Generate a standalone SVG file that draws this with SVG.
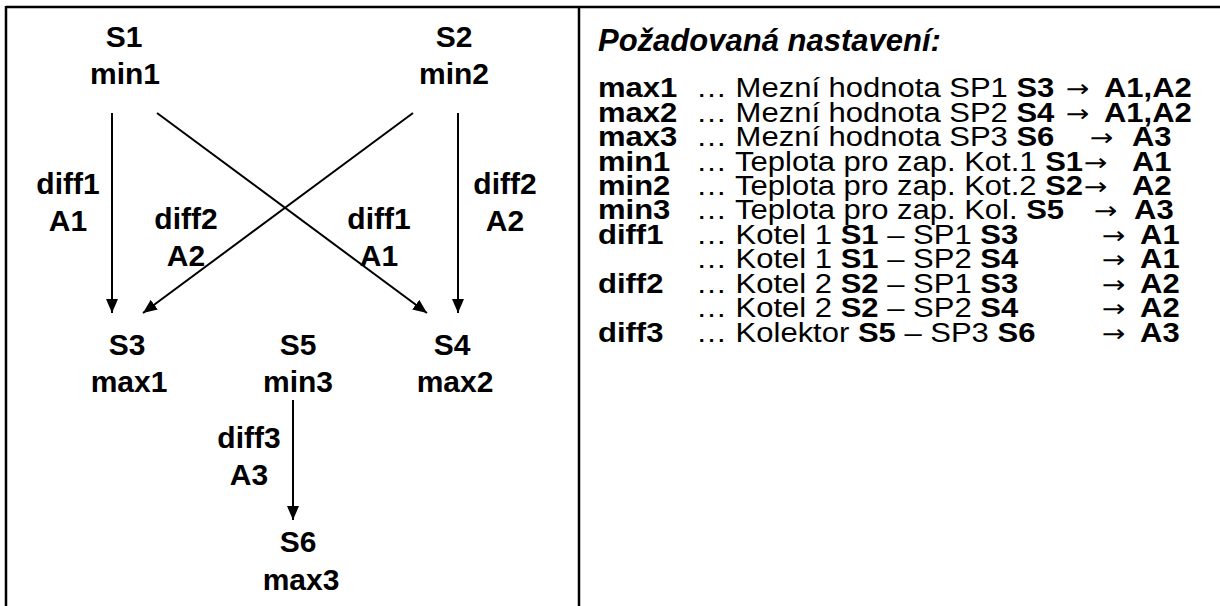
<svg xmlns="http://www.w3.org/2000/svg" width="1220" height="606" viewBox="0 0 1220 606">
<defs>
<marker id="ah" viewBox="0 0 14 12" refX="14" refY="6" markerWidth="14" markerHeight="12" markerUnits="userSpaceOnUse" orient="auto"><path d="M0,0 L14,6 L0,12 Z" fill="#000"/></marker>
</defs>
<style>
.n{font-family:"Liberation Sans",Arial,sans-serif;font-weight:bold;font-size:30px;text-anchor:middle;fill:#000}
.c line{stroke:#000;stroke-width:2;marker-end:url(#ah)}
.r{font-family:"Liberation Sans",Arial,sans-serif;font-size:31px;fill:#000}
.b{font-weight:bold}
.a{font-family:"DejaVu Sans",sans-serif;font-size:28px}
.t{font-family:"Liberation Sans",Arial,sans-serif;font-size:31px;font-weight:bold;font-style:italic;fill:#000}
</style>
<rect width="1220" height="606" fill="#fff"/>
<g id="frame" stroke="#000" stroke-width="2.5">
<line x1="6" y1="7" x2="1220" y2="7"/>
<line x1="6" y1="6" x2="6" y2="606"/>
<line x1="579" y1="7" x2="579" y2="606"/>
</g>
<g id="connectors" class="c">
<line x1="112" y1="113" x2="112" y2="313"/>
<line x1="157" y1="113" x2="427" y2="313"/>
<line x1="413" y1="113" x2="143" y2="313"/>
<line x1="458" y1="113" x2="458" y2="313"/>
<line x1="293" y1="400" x2="293" y2="520"/>
</g>
<g id="S1" class="n"><text x="124" y="47">S1</text><text x="125" y="84">min1</text></g>
<g id="S2" class="n"><text x="454" y="47">S2</text><text x="454" y="84">min2</text></g>
<g id="S3" class="n"><text x="127" y="355">S3</text><text x="129" y="392">max1</text></g>
<g id="S5" class="n"><text x="298" y="355">S5</text><text x="298" y="392">min3</text></g>
<g id="S4" class="n"><text x="452" y="355">S4</text><text x="455" y="392">max2</text></g>
<g id="S6" class="n"><text x="298" y="552">S6</text><text x="301" y="590">max3</text></g>
<g id="edge-labels" class="n">
<text x="68" y="194">diff1</text><text x="68" y="231">A1</text>
<text x="186" y="229">diff2</text><text x="186" y="266">A2</text>
<text x="379" y="229">diff1</text><text x="379" y="266">A1</text>
<text x="505" y="194">diff2</text><text x="505" y="231">A2</text>
<text x="249" y="448">diff3</text><text x="249" y="485">A3</text>
</g>
<text id="title" class="t" x="598" y="51">Požadovaná nastavení:</text>
<g id="settings" transform="scale(1,0.87)">
<text class="r" y="112"><tspan x="598" class="b">max1</tspan><tspan x="696">… Mezní hodnota SP1 </tspan><tspan class="b">S3</tspan><tspan x="1066" class="a">→</tspan><tspan x="1104" class="b">A1,A2</tspan></text>
<text class="r" y="140"><tspan x="598" class="b">max2</tspan><tspan x="696">… Mezní hodnota SP2 </tspan><tspan class="b">S4</tspan><tspan x="1066" class="a">→</tspan><tspan x="1104" class="b">A1,A2</tspan></text>
<text class="r" y="168"><tspan x="598" class="b">max3</tspan><tspan x="696">… Mezní hodnota SP3 </tspan><tspan class="b">S6</tspan><tspan x="1090" class="a">→</tspan><tspan x="1132" class="b">A3</tspan></text>
<text class="r" y="197"><tspan x="598" class="b">min1</tspan><tspan x="696">… Teplota pro zap. Kot.1 </tspan><tspan class="b">S1</tspan><tspan x="1084" class="a">→</tspan><tspan x="1132" class="b">A1</tspan></text>
<text class="r" y="224"><tspan x="598" class="b">min2</tspan><tspan x="696">… Teplota pro zap. Kot.2 </tspan><tspan class="b">S2</tspan><tspan x="1084" class="a">→</tspan><tspan x="1132" class="b">A2</tspan></text>
<text class="r" y="252"><tspan x="598" class="b">min3</tspan><tspan x="696">… Teplota pro zap. Kol. </tspan><tspan class="b">S5</tspan><tspan x="1094" class="a">→</tspan><tspan x="1134" class="b">A3</tspan></text>
<text class="r" y="281"><tspan x="598" class="b">diff1</tspan><tspan x="696">… Kotel 1 </tspan><tspan class="b">S1</tspan><tspan> – SP1 </tspan><tspan class="b">S3</tspan><tspan x="1102" class="a">→</tspan><tspan x="1140" class="b">A1</tspan></text>
<text class="r" y="308"><tspan x="696">… Kotel 1 </tspan><tspan class="b">S1</tspan><tspan> – SP2 </tspan><tspan class="b">S4</tspan><tspan x="1102" class="a">→</tspan><tspan x="1140" class="b">A1</tspan></text>
<text class="r" y="337"><tspan x="598" class="b">diff2</tspan><tspan x="696">… Kotel 2 </tspan><tspan class="b">S2</tspan><tspan> – SP1 </tspan><tspan class="b">S3</tspan><tspan x="1102" class="a">→</tspan><tspan x="1140" class="b">A2</tspan></text>
<text class="r" y="364"><tspan x="696">… Kotel 2 </tspan><tspan class="b">S2</tspan><tspan> – SP2 </tspan><tspan class="b">S4</tspan><tspan x="1102" class="a">→</tspan><tspan x="1140" class="b">A2</tspan></text>
<text class="r" y="393"><tspan x="598" class="b">diff3</tspan><tspan x="696">… Kolektor </tspan><tspan class="b">S5</tspan><tspan> – SP3 </tspan><tspan class="b">S6</tspan><tspan x="1102" class="a">→</tspan><tspan x="1140" class="b">A3</tspan></text>
</g>
</svg>
